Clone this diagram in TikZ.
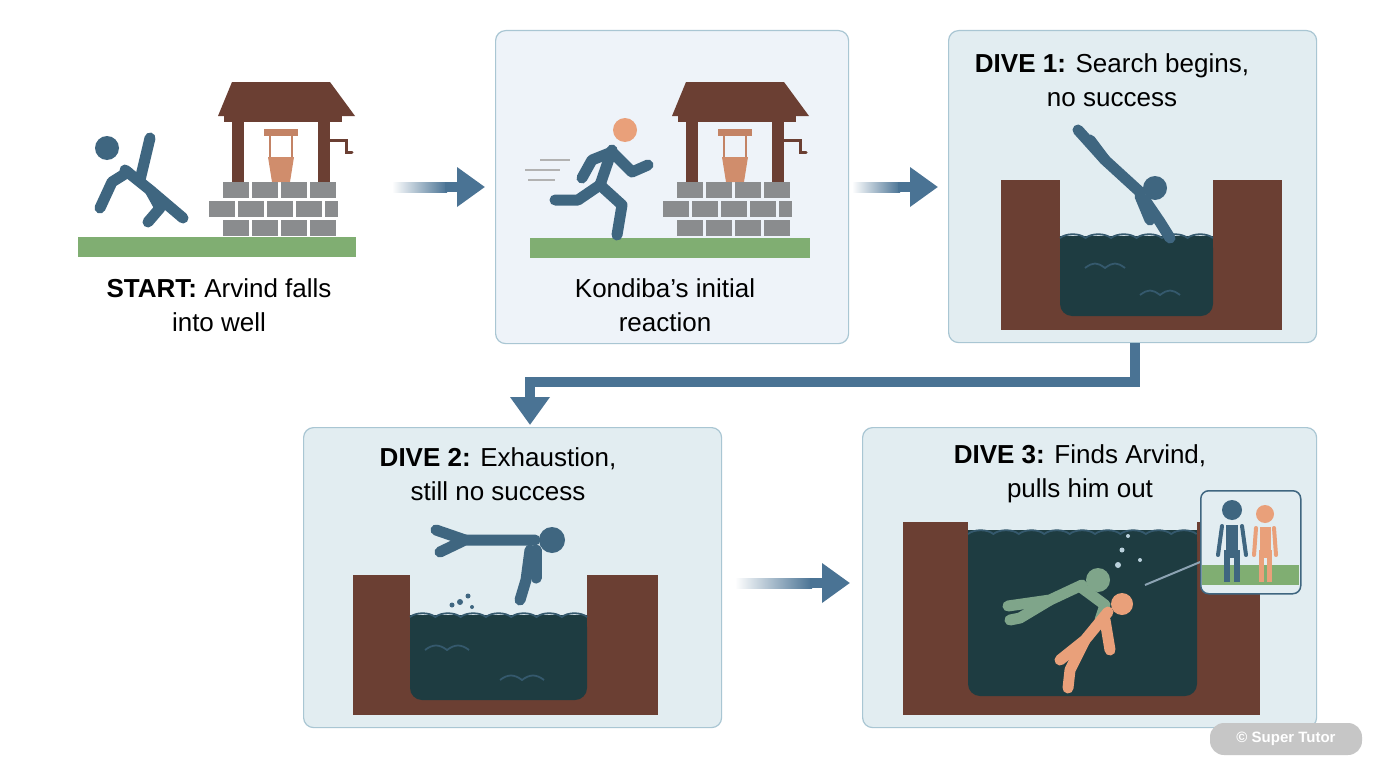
\documentclass[tikz,border=0pt]{standalone}
\usepackage{fontspec}
\setmainfont{Liberation Sans}
\usetikzlibrary{arrows.meta,shapes.geometric,calc}
\definecolor{fig}{HTML}{3F6680}
\definecolor{arr}{HTML}{4A7394}
\definecolor{brownw}{HTML}{6B3F33}
\definecolor{water}{HTML}{1E3C41}
\definecolor{grass}{HTML}{80AE72}
\definecolor{brick}{HTML}{8A8C8E}
\definecolor{skin}{HTML}{E9A07A}
\definecolor{pfill}{HTML}{E2EDF1}
\definecolor{pline}{HTML}{A9C6D3}
\definecolor{pfillb}{HTML}{EEF3F9}
\definecolor{greenfig}{HTML}{7FA58A}
\begin{document}
\begin{tikzpicture}[x=1pt,y=-1pt,
  panel/.style={fill=pfill,draw=pline,line width=1.2pt,rounded corners=10pt},
  lbl/.style={font=\fontsize{26}{34}\selectfont,align=center,text=black},
  limb/.style={line width=11pt,line cap=round,line join=round},
  arrow/.style={line width=10pt,draw=arr,-{Triangle[length=28pt,width=38pt]}},
  wave/.style={draw=fig!70!water,line width=1.8pt}]
\useasboundingbox (0,0) rectangle (1376,768);
\fill[white] (0,0) rectangle (1376,768);
% panels
\node[panel,fill=pfillb,minimum width=353pt,minimum height=313pt,anchor=north west] (p2) at (495,30) {};
\node[panel,minimum width=368pt,minimum height=312pt,anchor=north west] (p3) at (948,30) {};
\node[panel,minimum width=418pt,minimum height=300pt,anchor=north west] (p4) at (303,427) {};
\node[panel,minimum width=454pt,minimum height=300pt,anchor=north west] (p5) at (862,427) {};
% arrows
\coordinate (a1s) at (392,187); \coordinate (a1e) at (485,187);
\coordinate (a2s) at (852,187); \coordinate (a2e) at (938,187);
\coordinate (a4s) at (735,583); \coordinate (a4e) at (850,583);
\foreach \s/\e in {a1s/a1e,a2s/a2e,a4s/a4e}{
  \shade[left color=white,right color=arr] ($(\s)+(0,-5)$) rectangle ($(\e)+(-38,5)$);
  \draw[arrow] ($(\e)+(-40,0)$) -- (\e);
}
\draw[line width=10pt,draw=arr,line join=miter] (1135,343) -- (1135,382) -- (530,382) -- (530,400);
\draw[arrow] (530,395) -- (530,425);
% texts
\node[lbl] (t1) at (219,305) {\textbf{START:} Arvind falls\\into well};
\node[lbl] (t2) at (665,305) {Kondiba’s initial\\reaction};
\node[lbl] (t3) at (1112,80) {\textbf{DIVE 1:} Search begins,\\no success};
\node[lbl] (t4) at (498,474) {\textbf{DIVE 2:} Exhaustion,\\still no success};
\node[lbl] (t5) at (1080,474) {\textbf{DIVE 3:} Finds Arvind,\\pulls him out};
% well macro
\newcommand{\mywell}[2]{%
\begin{scope}[shift={(#1,#2)}]
 \fill[brownw] (10,0) -- (108,0) -- (133,34) -- (-4,34) -- cycle;
 \fill[brownw] (2,34) rectangle (120,40);
 \fill[brownw] (10,40) rectangle (22,100);
 \fill[brownw] (96,40) rectangle (108,100);
 \draw[brownw,line width=3pt,line cap=round] (108,58) -- (124,58) -- (124,70) -- (130,70);
 \draw[skin!70!brownw,line width=7pt] (42,50) -- (76,50);
 \draw[skin!70!brownw,line width=2pt] (48,50) -- (48,75) (70,50)--(70,75);
 \fill[skin!80!brownw] (46,75) -- (72,75) -- (68,100) -- (50,100) -- cycle;
 \foreach \r in {0,1,2}{
   \foreach \c in {0,1,2,3}{
     \pgfmathsetmacro\off{mod(\r,2)==1?-14:0}
     \fill[brick] (1+\c*29+\off,100+\r*19) rectangle (27+\c*29+\off,116+\r*19);
   }}
 \fill[brick] (1,119) rectangle (13,135);
 \fill[brick] (103,119) rectangle (116,135);
\end{scope}}
\fill[grass] (78,237) rectangle (356,257);
\mywell{222}{82}
\fill[grass] (530,238) rectangle (810,258);
\mywell{676}{82}
% falling figure p1
\fill[fig] (107,148) circle (12);
\draw[fig,limb] (125,170) -- (150,190) -- (183,218);
\draw[fig,limb] (150,190) -- (160,208) -- (148,222);
\draw[fig,limb] (128,172) -- (112,182) -- (100,208);
\draw[fig,limb] (140,180) -- (150,138);
% runner p2
\fill[skin] (625,130) circle (12);
\draw[fig,limb] (612,150) -- (600,185);
\draw[fig,limb] (600,185) -- (622,205) -- (617,235);
\draw[fig,limb] (600,185) -- (578,200) -- (555,200);
\draw[fig,limb] (612,152) -- (632,172) -- (648,165);
\draw[fig,limb] (612,152) -- (592,160) -- (582,178);
\draw[gray!60,line width=2pt] (525,170) -- (560,170) (528,180) -- (555,180) (540,160)--(570,160);
% panel 3 well
\fill[brownw] (1001,180) rectangle (1060,330);
\fill[brownw] (1213,180) rectangle (1282,330);
\fill[brownw] (1001,290) rectangle (1282,330);
\fill[water,rounded corners=12pt] (1060,236) rectangle (1213,316);
\fill[water] (1060,236) rectangle (1213,260);
\draw[wave] (1060,238) \foreach \i in {0,...,5}{ .. controls +(6,-5) and +(-6,-5) .. ++(25.5,0)};
\draw[wave] (1085,268) .. controls +(8,-6) and +(-8,-6) .. ++(20,0) .. controls +(8,-6) and +(-8,-6) .. ++(20,0);
\draw[wave] (1140,295) .. controls +(8,-6) and +(-8,-6) .. ++(20,0) .. controls +(8,-6) and +(-8,-6) .. ++(20,0);
% diver p3
\fill[fig] (1155,188) circle (12);
\draw[fig,limb] (1140,192) -- (1105,160) -- (1078,130);
\draw[fig,limb] (1105,160) -- (1090,140);
\draw[fig,limb] (1145,200) -- (1160,222) -- (1170,238);
\draw[fig,limb] (1140,196) -- (1150,220);
% panel 4 well
\fill[brownw] (353,575) rectangle (410,715);
\fill[brownw] (587,575) rectangle (658,715);
\fill[brownw] (353,680) rectangle (658,715);
\fill[water,rounded corners=12pt] (410,615) rectangle (587,700);
\fill[water] (410,615) rectangle (587,640);
\draw[wave] (410,617) \foreach \i in {0,...,6}{ .. controls +(6,-5) and +(-6,-5) .. ++(25.3,0)};
\draw[wave] (425,650) .. controls +(8,-6) and +(-8,-6) .. ++(22,0) .. controls +(8,-6) and +(-8,-6) .. ++(22,0);
\draw[wave] (500,680) .. controls +(8,-6) and +(-8,-6) .. ++(22,0) .. controls +(8,-6) and +(-8,-6) .. ++(22,0);
\fill[fig] (460,602) circle (3) (468,596) circle (2.5) (452,605) circle (2.5) (472,607) circle (2);
% diver p4
\fill[fig] (552,540) circle (13);
\draw[fig,limb] (535,540) -- (495,540) -- (465,540) -- (440,552);
\draw[fig,limb] (465,540) -- (436,530);
\draw[fig,limb] (530,550) -- (526,580) -- (520,600);
\draw[fig,limb] (536,550) -- (536,578);
% panel 5 well
\fill[brownw] (903,522) rectangle (968,715);
\fill[brownw] (1197,522) rectangle (1260,715);
\fill[brownw] (903,680) rectangle (1260,715);
\fill[water,rounded corners=12pt] (968,530) rectangle (1197,696);
\fill[water] (968,530) rectangle (1197,560);
\draw[wave] (968,534) \foreach \i in {0,...,8}{ .. controls +(6,-5) and +(-6,-5) .. ++(25.4,0)};
\fill[pline!80] (1118,565) circle (3) (1122,550) circle (2.5) (1128,536) circle (2) (1140,560) circle (2);
% rescuer
\fill[greenfig] (1098,580) circle (12);
\draw[greenfig,limb] (1082,585) -- (1050,600) -- (1008,606);
\draw[greenfig,limb] (1082,588) -- (1105,605) -- (1100,620);
\draw[greenfig,limb] (1050,600) -- (1020,618) -- (1010,620);
% Arvind
\fill[skin] (1122,604) circle (11);
\draw[skin,limb] (1108,612) -- (1085,640) -- (1060,660);
\draw[skin,limb] (1085,640) -- (1070,670) -- (1068,688);
\draw[skin,limb] (1105,620) -- (1110,650);
% pointer and inset
\draw[fig!60,line width=2pt] (1145,585) -- (1205,560);
\node[draw=fig,line width=1.5pt,fill=pfill,rounded corners=8pt,minimum width=100pt,minimum height=103pt,anchor=north west] (ins) at (1200,490) {};
\fill[grass] (1201.5,565) rectangle (1298.5,585);
\fill[fig] (1232,510) circle (10);
\draw[fig,line width=12pt] (1232,525) -- (1232,558);
\draw[fig,line width=6pt] (1227,550) -- (1227,582) (1237,550) -- (1237,582);
\draw[fig,line width=4pt,line cap=round] (1222,526) -- (1218,555) (1242,526)--(1246,555);
\fill[skin] (1265,514) circle (9);
\draw[skin,line width=11pt] (1265,527) -- (1265,558);
\draw[skin,line width=5pt] (1261,550) -- (1261,582) (1269,550) -- (1269,582);
\draw[skin,line width=4pt,line cap=round] (1256,528) -- (1254,555) (1274,528)--(1276,555);
% watermark
\node[fill=gray!45,text=white,rounded corners=14pt,minimum width=152pt,minimum height=32pt,font=\fontsize{15}{18}\selectfont\bfseries] (wm) at (1286,739) {© Super Tutor};
\end{tikzpicture}
\end{document}
